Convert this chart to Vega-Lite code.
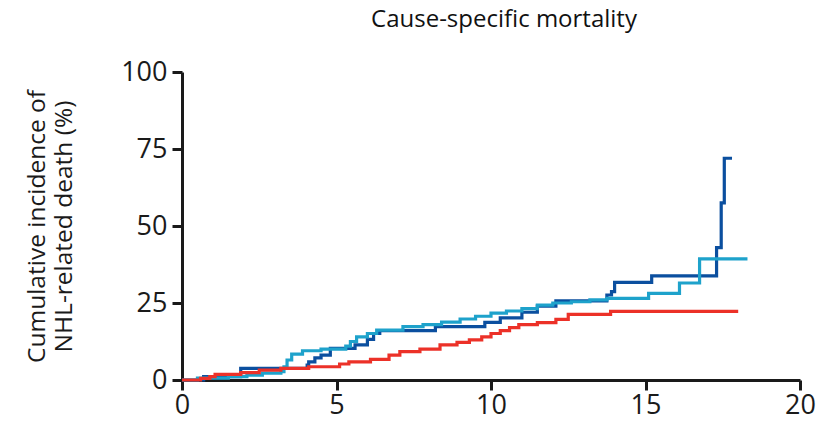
{
  "$schema": "https://vega.github.io/schema/vega-lite/v6.json",
  "autosize": "none",
  "width": 618,
  "height": 308,
  "padding": {"left": 182, "top": 72, "right": 25, "bottom": 52},
  "background": "white",
  "config": {
    "view": {"stroke": null},
    "font": "Open Sans"
  },
  "title": {
    "text": "Cause-specific mortality",
    "fontSize": 24,
    "fontWeight": "normal",
    "color": "#111",
    "anchor": "middle",
    "dx": 13,
    "offset": 26
  },
  "data": {
    "values": [
      {"group": "A", "t": 0, "ci": 0},
      {"group": "A", "t": 0.7, "ci": 1.1},
      {"group": "A", "t": 1.9, "ci": 3.8},
      {"group": "A", "t": 4.05, "ci": 4.8},
      {"group": "A", "t": 4.1, "ci": 5.9},
      {"group": "A", "t": 4.3, "ci": 7.2},
      {"group": "A", "t": 4.5, "ci": 8.1},
      {"group": "A", "t": 4.8, "ci": 10.3},
      {"group": "A", "t": 5.6, "ci": 11.4},
      {"group": "A", "t": 6.0, "ci": 13.2},
      {"group": "A", "t": 6.2, "ci": 15.1},
      {"group": "A", "t": 6.4, "ci": 16.0},
      {"group": "A", "t": 8.2, "ci": 17.3},
      {"group": "A", "t": 9.8, "ci": 18.7},
      {"group": "A", "t": 10.3, "ci": 20.2},
      {"group": "A", "t": 11.0, "ci": 22.0},
      {"group": "A", "t": 11.5, "ci": 24.0},
      {"group": "A", "t": 12.1, "ci": 25.7},
      {"group": "A", "t": 13.75, "ci": 27.6},
      {"group": "A", "t": 13.9, "ci": 28.7},
      {"group": "A", "t": 14.0, "ci": 31.7},
      {"group": "A", "t": 15.2, "ci": 33.8},
      {"group": "A", "t": 17.3, "ci": 43.0},
      {"group": "A", "t": 17.45, "ci": 57.5},
      {"group": "A", "t": 17.55, "ci": 72.0},
      {"group": "A", "t": 17.8, "ci": 72.0},

      {"group": "B", "t": 0, "ci": 0},
      {"group": "B", "t": 0.5, "ci": 0.6},
      {"group": "B", "t": 1.5, "ci": 1.1},
      {"group": "B", "t": 2.1, "ci": 1.6},
      {"group": "B", "t": 2.6, "ci": 2.2},
      {"group": "B", "t": 3.2, "ci": 2.7},
      {"group": "B", "t": 3.3, "ci": 4.3},
      {"group": "B", "t": 3.4, "ci": 6.5},
      {"group": "B", "t": 3.55, "ci": 8.4},
      {"group": "B", "t": 3.9, "ci": 9.5},
      {"group": "B", "t": 4.5, "ci": 10.0},
      {"group": "B", "t": 5.3, "ci": 11.0},
      {"group": "B", "t": 5.45, "ci": 12.5},
      {"group": "B", "t": 5.65, "ci": 14.0},
      {"group": "B", "t": 6.0, "ci": 15.1},
      {"group": "B", "t": 6.3, "ci": 16.2},
      {"group": "B", "t": 7.15, "ci": 17.3},
      {"group": "B", "t": 7.8, "ci": 18.0},
      {"group": "B", "t": 8.4, "ci": 18.8},
      {"group": "B", "t": 9.0, "ci": 19.8},
      {"group": "B", "t": 9.5, "ci": 20.7},
      {"group": "B", "t": 10.0, "ci": 21.7},
      {"group": "B", "t": 10.5, "ci": 22.4},
      {"group": "B", "t": 11.0, "ci": 23.2},
      {"group": "B", "t": 11.5, "ci": 24.3},
      {"group": "B", "t": 12.0, "ci": 25.0},
      {"group": "B", "t": 12.6, "ci": 25.4},
      {"group": "B", "t": 13.2, "ci": 26.0},
      {"group": "B", "t": 13.75, "ci": 26.5},
      {"group": "B", "t": 15.1, "ci": 28.1},
      {"group": "B", "t": 16.1, "ci": 31.5},
      {"group": "B", "t": 16.75, "ci": 39.3},
      {"group": "B", "t": 18.3, "ci": 39.3},

      {"group": "C", "t": 0, "ci": 0},
      {"group": "C", "t": 0.6, "ci": 0.5},
      {"group": "C", "t": 0.9, "ci": 1.1},
      {"group": "C", "t": 1.07, "ci": 1.8},
      {"group": "C", "t": 1.9, "ci": 2.4},
      {"group": "C", "t": 2.5, "ci": 3.2},
      {"group": "C", "t": 3.2, "ci": 3.8},
      {"group": "C", "t": 4.1, "ci": 4.3},
      {"group": "C", "t": 5.1, "ci": 5.2},
      {"group": "C", "t": 5.4, "ci": 5.9},
      {"group": "C", "t": 6.1, "ci": 6.7},
      {"group": "C", "t": 6.7, "ci": 8.1},
      {"group": "C", "t": 7.05, "ci": 9.2},
      {"group": "C", "t": 7.7, "ci": 10.0},
      {"group": "C", "t": 8.35, "ci": 11.4},
      {"group": "C", "t": 8.9, "ci": 12.2},
      {"group": "C", "t": 9.3, "ci": 13.0},
      {"group": "C", "t": 9.7, "ci": 14.0},
      {"group": "C", "t": 10.0, "ci": 15.1},
      {"group": "C", "t": 10.3, "ci": 16.0},
      {"group": "C", "t": 10.6, "ci": 17.0},
      {"group": "C", "t": 10.9, "ci": 18.0},
      {"group": "C", "t": 11.5, "ci": 18.6},
      {"group": "C", "t": 12.1, "ci": 19.7},
      {"group": "C", "t": 12.5, "ci": 21.3},
      {"group": "C", "t": 13.87, "ci": 22.3},
      {"group": "C", "t": 18.0, "ci": 22.3}
    ]
  },
  "mark": {"type": "line", "interpolate": "step-after", "strokeWidth": 3.2, "clip": false},
  "encoding": {
    "x": {
      "field": "t",
      "type": "quantitative",
      "scale": {"domain": [0, 20], "nice": false, "zero": true},
      "axis": {
        "values": [0, 5, 10, 15, 20],
        "title": null,
        "grid": false,
        "domainColor": "#1a1a1a",
        "domainWidth": 3,
        "tickColor": "#1a1a1a",
        "tickWidth": 3,
        "tickSize": 10,
        "labelFontSize": 27,
        "labelColor": "#1a1a1a",
        "labelPadding": 2,
        "labelFlush": false
      }
    },
    "y": {
      "field": "ci",
      "type": "quantitative",
      "scale": {"domain": [0, 100], "nice": false},
      "axis": {
        "values": [0, 25, 50, 75, 100],
        "title": ["Cumulative incidence of", "NHL-related death (%)"],
        "titleFontSize": 24.5,
        "titleFontWeight": "normal",
        "titleColor": "#1a1a1a",
        "titleLineHeight": 27,
        "titlePadding": 44,
        "grid": false,
        "domainColor": "#1a1a1a",
        "domainWidth": 3,
        "tickColor": "#1a1a1a",
        "tickWidth": 3,
        "tickSize": 10,
        "labelFontSize": 27,
        "labelColor": "#1a1a1a",
        "labelPadding": 5,
        "labelFlush": false
      }
    },
    "color": {
      "field": "group",
      "type": "nominal",
      "scale": {"domain": ["A", "B", "C"], "range": ["#0b4f9f", "#1ea2cb", "#ec3128"]},
      "legend": null
    },
    "order": {"field": "t", "type": "quantitative"}
  }
}
